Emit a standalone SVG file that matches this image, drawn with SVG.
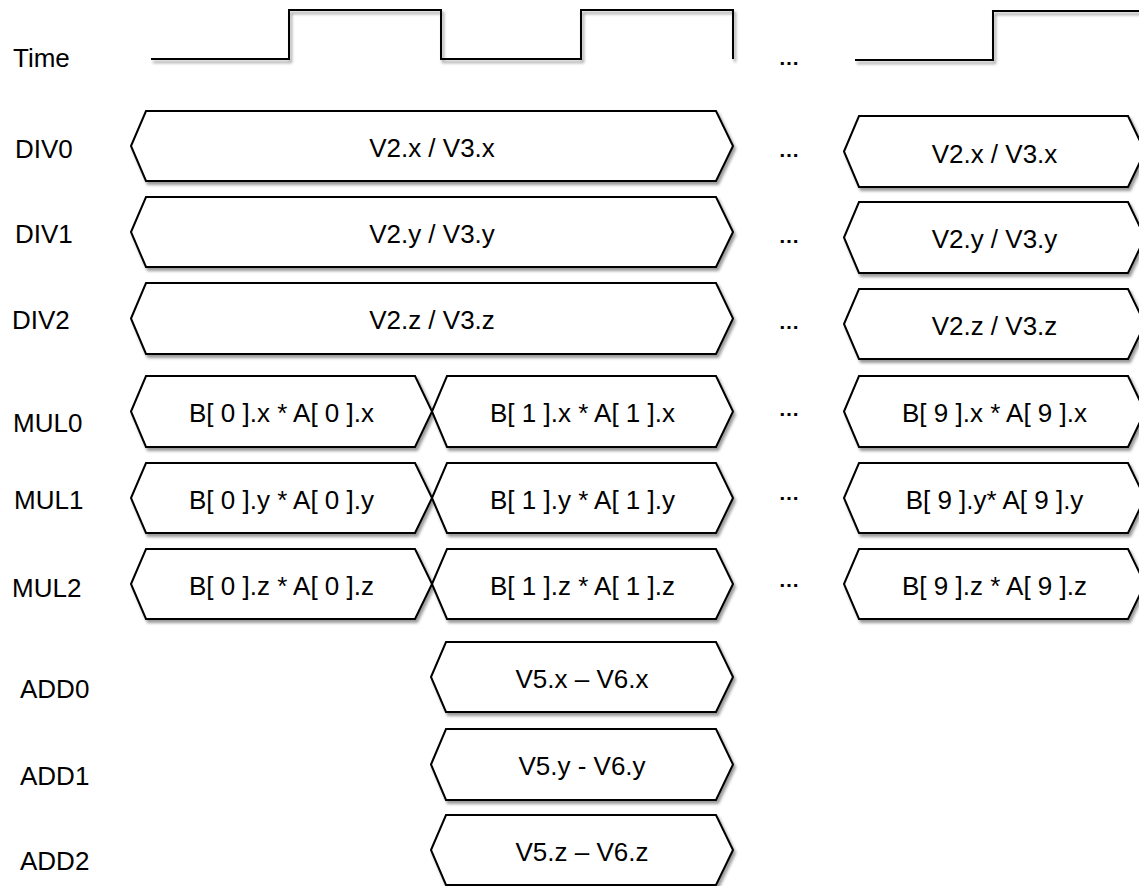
<svg xmlns="http://www.w3.org/2000/svg" width="1139" height="886" viewBox="0 0 1139 886">
<defs>
<filter id="sh" x="-5%" y="-15%" width="115%" height="150%">
<feDropShadow dx="2" dy="3" stdDeviation="1.8" flood-color="#000" flood-opacity="0.4"/>
</filter>
</defs>
<style>
.hex{fill:#fff;stroke:#000;stroke-width:2;stroke-linejoin:miter;filter:url(#sh)}
.wave{fill:none;stroke:#000;stroke-width:2;filter:url(#sh)}
text{font-family:"Liberation Sans",Arial,sans-serif;font-size:26px;fill:#000}
.c{text-anchor:middle}
.dots{font-size:21px;font-weight:bold;text-anchor:middle}
</style>
<rect width="1139" height="886" fill="#fff"/>

<g id="labels">
<text x="13" y="67">Time</text>
<text x="15" y="158">DIV0</text>
<text x="15" y="243">DIV1</text>
<text x="12" y="329">DIV2</text>
<text x="13" y="432">MUL0</text>
<text x="14" y="509">MUL1</text>
<text x="12" y="597">MUL2</text>
<text x="20" y="698">ADD0</text>
<text x="20" y="785">ADD1</text>
<text x="20" y="870">ADD2</text>
</g>

<g id="connectors">
<path id="timeline-a" class="wave" d="M151,59 H289 V10 H441 V59 H581 V10 H733 V59"/>
<path id="timeline-b" class="wave" d="M855,60 H993 V11 H1145"/>
</g>

<g id="ellipses">
<text class="dots" x="789" y="64.5">…</text>
<text class="dots" x="789" y="156.5">…</text>
<text class="dots" x="789" y="242.5">…</text>
<text class="dots" x="789" y="328.5">…</text>
<text class="dots" x="789" y="415.5">…</text>
<text class="dots" x="789" y="499.5">…</text>
<text class="dots" x="789" y="586.5">…</text>
</g>

<g id="div0-a"><path class="hex" d="M131,146 L146,111 H716 L733,146 L716,181 H146 Z"/><text class="c" x="432" y="157">V2.x / V3.x</text></g>
<g id="div0-b"><path class="hex" d="M844,151.5 L859,116 H1128 L1145,151.5 L1128,187 H859 Z"/><text class="c" x="994.5" y="163">V2.x / V3.x</text></g>
<g id="div1-a"><path class="hex" d="M131,232 L146,197 H716 L733,232 L716,267 H146 Z"/><text class="c" x="432" y="242.5">V2.y / V3.y</text></g>
<g id="div1-b"><path class="hex" d="M844,237.5 L859,202 H1128 L1145,237.5 L1128,273 H859 Z"/><text class="c" x="994.5" y="248">V2.y / V3.y</text></g>
<g id="div2-a"><path class="hex" d="M131,318.5 L146,283 H716 L733,318.5 L716,354 H146 Z"/><text class="c" x="432" y="329">V2.z / V3.z</text></g>
<g id="div2-b"><path class="hex" d="M844,324 L859,289 H1128 L1145,324 L1128,359 H859 Z"/><text class="c" x="994.5" y="334.5">V2.z / V3.z</text></g>

<g id="mul0-0"><path class="hex" d="M131,411.5 L146,376 H415 L432,411.5 L415,447 H146 Z"/><text class="c" x="281.5" y="422">B[ 0 ].x * A[ 0 ].x</text></g>
<g id="mul0-1"><path class="hex" d="M432,411.5 L447,376 H716 L733,411.5 L716,447 H447 Z"/><text class="c" x="582.5" y="422">B[ 1 ].x * A[ 1 ].x</text></g>
<g id="mul0-9"><path class="hex" d="M844,411.5 L859,376 H1128 L1145,411.5 L1128,447 H859 Z"/><text class="c" x="994.5" y="422">B[ 9 ].x * A[ 9 ].x</text></g>

<g id="mul1-0"><path class="hex" d="M131,498 L146,463 H415 L432,498 L415,533 H146 Z"/><text class="c" x="281.5" y="508.5">B[ 0 ].y * A[ 0 ].y</text></g>
<g id="mul1-1"><path class="hex" d="M432,498 L447,463 H716 L733,498 L716,533 H447 Z"/><text class="c" x="582.5" y="508.5">B[ 1 ].y * A[ 1 ].y</text></g>
<g id="mul1-9"><path class="hex" d="M844,498 L859,463 H1128 L1145,498 L1128,533 H859 Z"/><text class="c" x="994.5" y="508.5">B[ 9 ].y* A[ 9 ].y</text></g>

<g id="mul2-0"><path class="hex" d="M131,584 L146,549 H415 L432,584 L415,619 H146 Z"/><text class="c" x="281.5" y="594.5">B[ 0 ].z * A[ 0 ].z</text></g>
<g id="mul2-1"><path class="hex" d="M432,584 L447,549 H716 L733,584 L716,619 H447 Z"/><text class="c" x="582.5" y="594.5">B[ 1 ].z * A[ 1 ].z</text></g>
<g id="mul2-9"><path class="hex" d="M844,584 L859,549 H1128 L1145,584 L1128,619 H859 Z"/><text class="c" x="994.5" y="594.5">B[ 9 ].z * A[ 9 ].z</text></g>

<g id="add0"><path class="hex" d="M431,677 L446,642 H716 L733,677 L716,712 H446 Z"/><text class="c" x="582" y="687.5">V5.x – V6.x</text></g>
<g id="add1"><path class="hex" d="M431,764.5 L446,729 H716 L733,764.5 L716,800 H446 Z"/><text class="c" x="582" y="775">V5.y - V6.y</text></g>
<g id="add2"><path class="hex" d="M431,850 L446,815 H716 L733,850 L716,885 H446 Z"/><text class="c" x="582" y="860.5">V5.z – V6.z</text></g>
</svg>
